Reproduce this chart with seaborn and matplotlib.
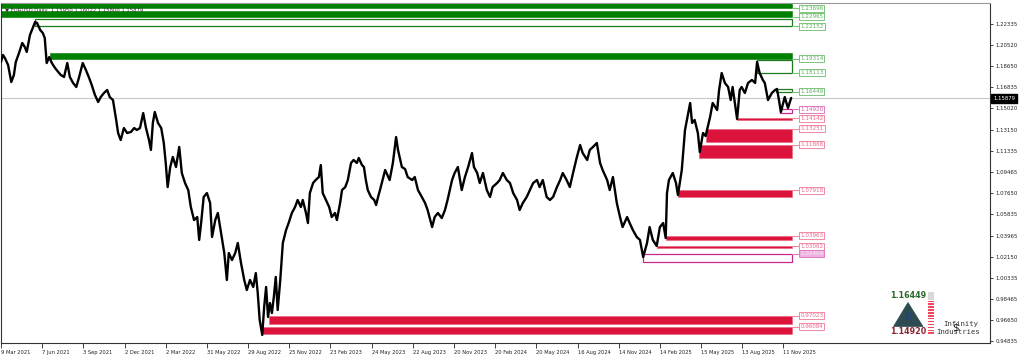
import matplotlib
matplotlib.use("Agg")
import matplotlib.pyplot as plt
from matplotlib.patches import Rectangle, Polygon
from matplotlib.transforms import blended_transform_factory
import seaborn as sns
import pandas as pd

# ---------------- data ----------------
bars = [0, 3, 6, 11, 16, 20, 23, 28, 33, 37, 40, 45, 48, 53, 56, 61, 65, 68, 71, 75,
        79, 84, 89, 93, 98, 103, 107, 112, 117, 121, 127, 132, 137, 141, 146, 151, 155, 160, 165, 169,
        174, 179, 182, 186, 191, 196, 202, 207, 211, 216, 221, 225, 230, 233, 236, 239, 244, 249, 253, 256,
        259, 263, 267, 272, 277, 281, 286, 291, 295, 300, 305, 308, 311, 315, 320, 325, 328, 333, 337, 342,
        347, 351, 354, 359, 364, 368, 373, 378, 382, 387, 392, 396, 399, 402, 406, 409, 412, 415, 418, 421,
        424, 427, 430, 434, 438, 443, 447, 452, 457, 461, 466, 469, 474, 477, 480, 485, 489, 494, 497, 500,
        505, 510, 514, 519, 522, 527, 530, 535, 539, 544, 548, 553, 556, 561, 564, 567, 570, 575, 580, 583,
        586, 589, 597, 604, 609, 614, 617, 623, 628, 632, 639, 643, 648, 654, 659, 663, 670, 674, 679, 685,
        690, 694, 701, 705, 710, 716, 721, 726, 732, 735, 740, 744, 749, 755, 760, 764, 771, 775, 780, 786,
        791, 796, 802, 806, 811, 817, 822, 827, 833, 837, 842, 848, 853, 858, 864, 869, 873, 879, 884, 889,
        895, 900, 904, 911, 915, 920, 926, 931, 935, 942, 946, 951, 957, 962, 966, 973, 977, 982, 988, 993,
        998, 1004, 1008, 1013, 1019, 1024, 1029, 1033, 1035, 1038, 1044, 1049, 1052, 1058, 1063, 1066, 1071, 1074, 1078, 1083,
        1086, 1091, 1095, 1102, 1106, 1113, 1116, 1120, 1125, 1130, 1134, 1137, 1144, 1148, 1151, 1156, 1161, 1167, 1172, 1175,
        1179, 1184, 1187, 1192, 1198, 1203, 1206, 1209, 1212, 1218, 1223, 1228]

close = [1.1904, 1.1965, 1.1939, 1.1878, 1.1730, 1.1791, 1.1904, 1.1982, 1.2069, 1.2034, 1.1991, 1.2138, 1.2181, 1.2251, 1.2242, 1.2181, 1.2155, 1.2112, 1.1895, 1.1947,
         1.1895, 1.1852, 1.1817, 1.1791, 1.1774, 1.1895, 1.1774, 1.1722, 1.1687, 1.1765, 1.1895, 1.1834, 1.1765, 1.1704, 1.1618, 1.1557, 1.1600, 1.1635, 1.1661, 1.1600,
         1.1574, 1.1401, 1.1288, 1.1227, 1.1331, 1.1288, 1.1297, 1.1331, 1.1314, 1.1331, 1.1461, 1.1340, 1.1227, 1.1141, 1.1375, 1.1470, 1.1375, 1.1331, 1.1201, 1.1028,
         1.0819, 1.0993, 1.1080, 1.0993, 1.1167, 1.0941, 1.0854, 1.0793, 1.0646, 1.0533, 1.0559, 1.0360, 1.0507, 1.0733, 1.0767, 1.0681, 1.0386, 1.0533, 1.0594, 1.0420,
         1.0247, 1.0013, 1.0247, 1.0186, 1.0247, 1.0334, 1.0160, 1.0013, 0.9926, 1.0013, 0.9952, 1.0073, 0.9900, 0.9666, 0.9536, 0.9779, 0.9952, 0.9692, 0.9813, 0.9726,
         0.9865, 1.0039, 0.9752, 1.0013, 1.0334, 1.0446, 1.0507, 1.0594, 1.0646, 1.0707, 1.0646, 1.0707, 1.0594, 1.0507, 1.0767, 1.0854, 1.0880, 1.0906, 1.1010, 1.0767,
         1.0707, 1.0646, 1.0559, 1.0594, 1.0533, 1.0681, 1.0793, 1.0819, 1.0880, 1.1028, 1.1054, 1.1028, 1.1071, 1.1010, 1.0993, 1.0880, 1.0793, 1.0733, 1.0707, 1.0663,
         1.0733, 1.0793, 1.0967, 1.0880, 1.1028, 1.1253, 1.1141, 1.0993, 1.0975, 1.0906, 1.0880, 1.0906, 1.0793, 1.0733, 1.0681, 1.0620, 1.0472, 1.0559, 1.0594, 1.0550,
         1.0620, 1.0707, 1.0880, 1.0941, 1.0993, 1.0793, 1.0906, 1.0993, 1.1114, 1.0993, 1.0941, 1.0854, 1.0941, 1.0793, 1.0733, 1.0819, 1.0854, 1.0880, 1.0941, 1.0880,
         1.0854, 1.0767, 1.0707, 1.0620, 1.0681, 1.0733, 1.0793, 1.0854, 1.0880, 1.0819, 1.0880, 1.0733, 1.0707, 1.0733, 1.0819, 1.0880, 1.0941, 1.0880, 1.0819, 1.0941,
         1.1080, 1.1184, 1.1114, 1.1054, 1.1141, 1.1167, 1.1201, 1.1028, 1.0967, 1.0880, 1.0793, 1.0906, 1.0681, 1.0559, 1.0472, 1.0559, 1.0507, 1.0446, 1.0386, 1.0360,
         1.0212, 1.0334, 1.0472, 1.0360, 1.0308, 1.0472, 1.0507, 1.0377, 1.0767, 1.0880, 1.0941, 1.0854, 1.0750, 1.0967, 1.1314, 1.1401, 1.1548, 1.1375, 1.1401, 1.1288,
         1.1123, 1.1288, 1.1262, 1.1427, 1.1548, 1.1487, 1.1661, 1.1808, 1.1722, 1.1687, 1.1574, 1.1687, 1.1409, 1.1661, 1.1687, 1.1635, 1.1722, 1.1748, 1.1722, 1.1904,
         1.1808, 1.1748, 1.1722, 1.1574, 1.1635, 1.1661, 1.1670, 1.1574, 1.1470, 1.1600, 1.1505, 1.1592]

tick_bars = [0, 64, 128, 192, 256, 320, 384, 448, 512, 576, 640, 704, 768, 832, 896, 960, 1024, 1088, 1152, 1216]
tick_labels = ["9 Mar 2021", "7 Jun 2021", "3 Sep 2021", "2 Dec 2021", "2 Mar 2022", "31 May 2022",
               "29 Aug 2022", "25 Nov 2022", "23 Feb 2023", "24 May 2023", "22 Aug 2023", "20 Nov 2023",
               "20 Feb 2024", "20 May 2024", "16 Aug 2024", "14 Nov 2024", "14 Feb 2025", "15 May 2025",
               "13 Aug 2025", "11 Nov 2025"]

ytick_values = [1.22335, 1.20520, 1.18650, 1.16835, 1.15020, 1.13150, 1.11335, 1.09465,
                1.07650, 1.05835, 1.03965, 1.02150, 1.00335, 0.98465, 0.96650, 0.94835]

zone_start = [0, 0, 53, 76, 1175, 1205, 1210, 1144, 1096, 1085, 1052, 1033, 1020, 998, 416, 406]
zone_low = [1.23696, 1.22965, 1.22152, 1.19314, 1.18113, 1.16449, 1.1458, 1.1400,
            1.1213, 1.1068, 1.0730, 1.0360, 1.0293, 1.0172, 0.9631, 0.9544]
zone_high = [1.2413, 1.2349, 1.2277, 1.1985, 1.1919, 1.1667, 1.14920, 1.14142,
             1.13251, 1.11868, 1.07918, 1.03963, 1.03062, 1.02409, 0.97023, 0.96084]
zone_kind = ["sfill", "sfill", "sbox", "sfill", "sbox", "sbox", "dbox", "dfill",
             "dfill", "dfill", "dfill", "dfill", "dfill", "dbox", "dfill", "dfill"]
zone_end = 1229

last_price = 1.15879
title_text = "\u25BC EURUSD,Daily  1.15950 1.16022 1.15800 1.15879"
hud_high = 1.16449
hud_low = 1.14920

# ---------------- figure ----------------
sns.set_theme(style="white")
plt.rcParams["font.family"] = ["DejaVu Sans"]

W, H = 1024, 358
fig = plt.figure(figsize=(W / 100, H / 100), dpi=100)
ax = fig.add_axes([1 / W, 15 / H, 989 / W, 340 / H])
ax.set_facecolor("white")
ax.set_xlim(0, 1537)
ax.set_ylim(0.94662, 1.24157)

# current price line
ax.axhline(last_price, color="#c8c8c8", lw=0.8, zorder=1)

GREEN = "#008000"
RED = "#dc143c"
MAG = "#c8288c"

# zones
for s, lo, hi, k in zip(zone_start, zone_low, zone_high, zone_kind):
    if k == "sfill":
        ax.add_patch(Rectangle((s, lo), zone_end - s, hi - lo, facecolor=GREEN, edgecolor=GREEN, lw=0.4, zorder=2))
    elif k == "sbox":
        ax.add_patch(Rectangle((s, lo), zone_end - s, hi - lo, facecolor="none", edgecolor="#1b7a1b", lw=0.9, zorder=2))
    elif k == "dfill":
        ax.add_patch(Rectangle((s, lo), zone_end - s, hi - lo, facecolor=RED, edgecolor="#e8607c", lw=0.4, zorder=2))
    else:
        ax.add_patch(Rectangle((s, lo), zone_end - s, hi - lo, facecolor="none", edgecolor=MAG, lw=0.9, zorder=2))

# price
df = pd.DataFrame({"bar": bars, "close": close})
sns.lineplot(data=df, x="bar", y="close", ax=ax, color="black", linewidth=1.7, legend=False, zorder=3)

# zone labels
lab_x = 1240
for lo, hi, k in zip(zone_low, zone_high, zone_kind):
    if k.startswith("s"):
        val = lo
        ec, tc, fc = "#7cc47c", "#5fae5f", "white"
    else:
        val = hi
        ec, tc, fc = "#f08aa2", "#ee6688", "white"
        if k == "dbox":
            ec, tc, fc = "#e07cc0", "#d85aa8", "white"
            if val < 1.05:
                fc, tc = "#eeb0e2", "#fbeefa"
    ax.plot([zone_end, lab_x], [val, val], color=ec, lw=0.8, zorder=2)
    ax.text(lab_x + 2, val, f"{val:.5f}", fontsize=4.1, color=tc, va="center", ha="left",
            bbox=dict(boxstyle="square,pad=0.18", fc=fc, ec=ec, lw=0.7), zorder=4)

# axes styling
for sp in ax.spines.values():
    sp.set_color("#333333")
    sp.set_linewidth(0.8)
ax.spines["top"].set_color("#9a9a9a")

ax.yaxis.tick_right()
ax.set_yticks(ytick_values)
ax.set_yticklabels([f"{v:.5f}" for v in ytick_values])
ax.tick_params(axis="y", which="both", right=True, left=False, length=2.5, width=0.6,
               pad=1.5, labelsize=3.9, colors="#222222", direction="out")
ax.set_xticks(tick_bars)
ax.set_xticklabels(tick_labels)
ax.tick_params(axis="x", which="both", bottom=True, length=3.5, width=0.6, pad=1.5,
               labelsize=3.7, colors="#222222", direction="out")
for lbl in ax.get_xticklabels():
    lbl.set_horizontalalignment("left")
ax.set_xlabel("")
ax.set_ylabel("")

# current price tag
tr = blended_transform_factory(ax.transAxes, ax.transData)
ax.text(1.003, last_price, f"{last_price:.5f}", transform=tr, fontsize=3.9, color="white",
        va="center", ha="left", bbox=dict(boxstyle="square,pad=0.3", fc="black", ec="black"),
        clip_on=False, zorder=5)

# title
ax.text(0.004, 0.985, title_text, transform=ax.transAxes, fontsize=3.8, color="#333333",
        va="top", ha="left", zorder=5)

# HUD widget (bottom right)
def fx(px):
    return px / W

def fy(py):
    return 1 - py / H

fig.text(fx(908), fy(295), f"{hud_high:.5f}", fontsize=5.8, fontweight="bold", color="#2e6a2e",
         ha="center", va="center")
fig.text(fx(908), fy(331.5), f"{hud_low:.5f}", fontsize=5.8, fontweight="bold", color="#8b2836",
         ha="center", va="center")
fig.patches.append(Polygon([[fx(908), fy(302.5)], [fx(893.5), fy(326.5)], [fx(923), fy(326.5)]],
                           closed=True, transform=fig.transFigure, facecolor="#2d4b50",
                           edgecolor="#2d4b50", lw=0.5))
fig.text(fx(908), fy(316), "[J]", fontsize=5, color="#1e3c8c", ha="center", va="center")
fig.patches.append(Rectangle((fx(928.3), fy(300)), fx(6), 8.3 / H, transform=fig.transFigure,
                             facecolor="#d9d9d9", edgecolor="none"))
for i in range(12):
    yy = 300.5 + i * 2.9
    fig.patches.append(Rectangle((fx(928.3), fy(yy + 1.5)), fx(6), 1.5 / H, transform=fig.transFigure,
                                 facecolor="#f04a62", edgecolor="none"))
fig.text(fx(961), fy(324), "Infinity", fontsize=5.2, color="#333333", family="DejaVu Sans Mono",
         ha="center", va="center")
fig.text(fx(958), fy(331.5), "Industries", fontsize=5.2, color="#333333", family="DejaVu Sans Mono",
         ha="center", va="center")
fig.text(fx(955), fy(327), "$", fontsize=7.5, color="#222222", ha="center", va="center")

fig.savefig("out.png", dpi=100, facecolor="white")
